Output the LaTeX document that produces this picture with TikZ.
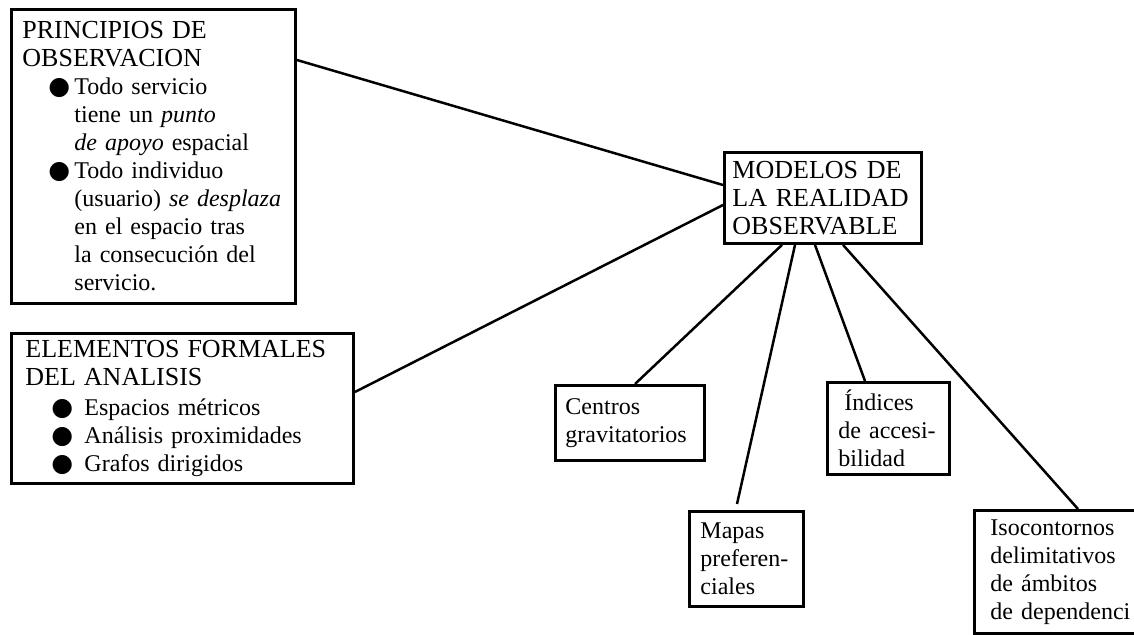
\documentclass[tikz,border=0pt]{standalone}
\usepackage{fontspec}
\setmainfont{Liberation Serif}
\newfontfamily\dotfont{DejaVu Sans}
\newcommand{\headfont}{\fontsize{26}{28}\selectfont}
\newcommand{\dotitem}[1][26pt]{\hspace*{26pt}\makebox[#1][l]{\raisebox{0pt}{\dotfont\fontsize{25}{28}\selectfont ●}}}
\newcommand{\dotcont}{\hspace*{52pt}}

\begin{document}
\begin{tikzpicture}[x=1pt,y=-1pt,
        box/.style={draw,line width=2.9pt,anchor=north west,align=left,
            font=\fontsize{24}{28}\selectfont},
        link/.style={line width=2.5pt}]
        \useasboundingbox (0,0) rectangle (1134,634);
        \clip (0,0) rectangle (1134,634);

        \coordinate (P) at (10,8);
        \coordinate (E) at (10,332);
        \coordinate (M) at (723,151);
        \coordinate (C) at (554,384);
        \coordinate (A) at (688,510);
        \coordinate (I) at (826,381);
        \coordinate (S) at (973,509);

        \node[box,inner xsep=11pt,text width=262pt,minimum height=294pt] (princ) at (P)
            {{\headfont PRINCIPIOS DE}\\{\headfont OBSERVACION}\\
            \dotitem Todo servicio\\
            \dotcont tiene un \textit{punto}\\
            \dotcont \textit{de apoyo} espacial\\
            \dotitem Todo individuo\\
            \dotcont (usuario) \textit{se desplaza}\\
            \dotcont en el espacio tras\\
            \dotcont la consecución del\\
            \dotcont servicio.};
        \node[box,inner xsep=14pt,text width=314pt,inner ysep=7pt] (elem) at (E)
            {{\headfont ELEMENTOS FORMALES}\\{\headfont DEL ANALISIS}\\[2pt]
            \dotitem[33pt]Espacios métricos\\
            \dotitem[33pt]Análisis proximidades\\
            \dotitem[33pt]Grafos dirigidos};
        \node[box,inner xsep=8pt,text width=181pt,minimum height=91pt,font=\headfont] (model) at (M)
            {MODELOS DE\\LA REALIDAD\\OBSERVABLE};
        \node[box,inner xsep=10pt,text width=129pt,minimum height=75pt] (centr) at (C)
            {Centros\\gravitatorios};
        \node[box,inner xsep=11pt,text width=92pt,minimum height=95pt] (mapas) at (A)
            {Mapas\\preferen-\\ciales};
        \node[box,inner xsep=11pt,text width=100pt,minimum height=92pt] (indic) at (I)
            {\hspace*{6pt}Índices\\de accesi-\\bilidad};
        \node[box,inner xsep=16pt,text width=150pt,minimum height=123pt] (isoc) at (S)
            {Isocontornos\\delimitativos\\de ámbitos\\de dependenci};

        \draw[link] ([yshift=-52pt]princ.north east) -- ([yshift=-34pt]model.north west);
        \draw[link] ([yshift=-60pt]elem.north east) -- ([yshift=-54pt]model.north west);
        \draw[link] ([xshift=59pt]model.south west) -- ([xshift=81pt]centr.north west);
        \draw[link] ([xshift=72pt]model.south west) -- ([xshift=49pt,yshift=6pt]mapas.north west);
        \draw[link] ([xshift=92pt]model.south west) -- ([xshift=39pt]indic.north west);
        \draw[link] ([xshift=120pt]model.south west) -- ([xshift=105pt]isoc.north west);
    \end{tikzpicture}
\end{document}
